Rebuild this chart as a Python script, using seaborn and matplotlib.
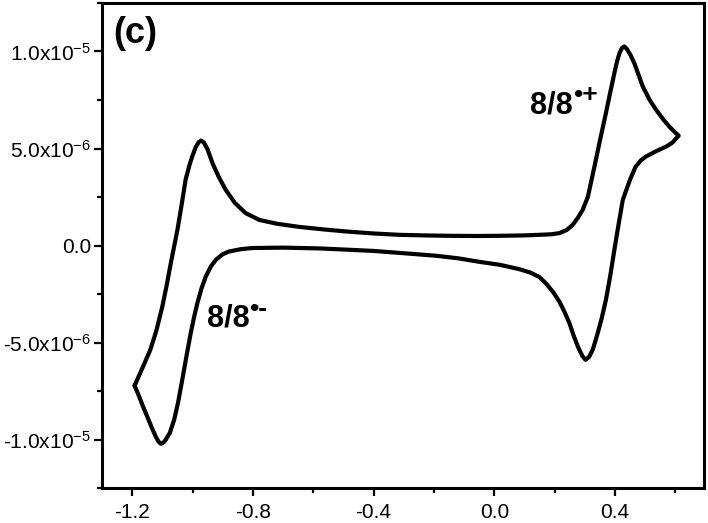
import numpy as np
import pandas as pd
import matplotlib
matplotlib.use("Agg")
import matplotlib.pyplot as plt
from matplotlib.ticker import MultipleLocator, FixedLocator, FixedFormatter
import seaborn as sns

# potential (V) and current (1e-6 A), read along the CV loop
potential = [-1.192, -1.177, -1.160, -1.140, -1.120, -1.100, -1.085, -1.072, -1.050, -1.035,
             -1.023, -1.010, -1.001, -0.990, -0.980, -0.971, -0.962, -0.950, -0.934, -0.912,
             -0.890, -0.860, -0.824, -0.779, -0.720, -0.647, -0.560, -0.481, -0.400, -0.315,
             -0.230, -0.149, -0.060, 0.017, 0.100, 0.149, 0.190, 0.216, 0.240, 0.260,
             0.278, 0.293, 0.310, 0.332, 0.350, 0.370, 0.385, 0.398, 0.407, 0.415,
             0.423, 0.431, 0.440, 0.452, 0.464, 0.478, 0.492, 0.515, 0.536, 0.560,
             0.580, 0.598, 0.611, 0.590, 0.570, 0.535, 0.503, 0.485, 0.468, 0.450,
             0.426, 0.412, 0.398, 0.385, 0.370, 0.356, 0.343, 0.334, 0.326, 0.314,
             0.302, 0.292, 0.277, 0.262, 0.249, 0.232, 0.216, 0.195, 0.171, 0.149,
             0.120, 0.083, 0.020, -0.050, -0.120, -0.192, -0.315, -0.400, -0.481, -0.580,
             -0.700, -0.802, -0.840, -0.879, -0.900, -0.923, -0.940, -0.956, -0.970, -0.984,
             -0.995, -1.006, -1.020, -1.034, -1.048, -1.061, -1.075, -1.089, -1.097, -1.105,
             -1.113, -1.122, -1.136, -1.150, -1.164, -1.177, -1.192]
current_uA = [-7.22, -6.70, -6.10, -5.38, -4.40, -3.14, -2.00, -0.91, 0.81, 2.20,
              3.39, 4.15, 4.59, 5.05, 5.32, 5.41, 5.30, 4.95, 4.25, 3.50,
              2.87, 2.20, 1.67, 1.32, 1.12, 0.96, 0.82, 0.71, 0.62, 0.55,
              0.52, 0.50, 0.49, 0.50, 0.52, 0.55, 0.58, 0.64, 0.80, 1.07,
              1.45, 1.84, 2.50, 4.07, 5.40, 6.83, 7.95, 8.89, 9.50, 9.92,
              10.18, 10.26, 10.12, 9.80, 9.40, 8.80, 8.20, 7.50, 7.00, 6.50,
              6.13, 5.85, 5.66, 5.30, 5.10, 4.85, 4.59, 4.38, 4.05, 3.40,
              2.36, 1.10, -0.22, -1.50, -2.80, -3.75, -4.50, -4.98, -5.38, -5.75,
              -5.89, -5.70, -5.21, -4.60, -4.00, -3.40, -2.90, -2.40, -1.95, -1.62,
              -1.40, -1.22, -1.00, -0.84, -0.66, -0.53, -0.38, -0.28, -0.22, -0.15,
              -0.11, -0.13, -0.19, -0.31, -0.45, -0.74, -1.10, -1.60, -2.20, -2.97,
              -3.70, -4.52, -5.70, -6.92, -8.10, -8.99, -9.65, -10.02, -10.17, -10.22,
              -10.10, -9.85, -9.35, -8.82, -8.30, -7.78, -7.22]

y_ticks = [-1.0e-5, -5.0e-6, 0.0, 5.0e-6, 1.0e-5]
y_labels = ["-1.0x10$^{-5}$", "-5.0x10$^{-6}$", "0.0", "5.0x10$^{-6}$", "1.0x10$^{-5}$"]
x_ticks = [-1.2, -0.8, -0.4, 0.0, 0.4]
x_labels = ["-1.2", "-0.8", "-0.4", "0.0", "0.4"]

df = pd.DataFrame({"E": potential, "I": np.array(current_uA) * 1e-6})

sns.set_style("ticks")
plt.rcParams["font.family"] = ["Liberation Sans", "DejaVu Sans"]
plt.rcParams["mathtext.fontset"] = "custom"
plt.rcParams["mathtext.rm"] = "Liberation Sans"
plt.rcParams["mathtext.it"] = "Liberation Sans:italic"
plt.rcParams["mathtext.bf"] = "Liberation Sans:bold"
plt.rcParams["text.color"] = "black"

fig = plt.figure(figsize=(7.08, 5.23), dpi=100)
ax = fig.add_axes([102 / 708, 35 / 523, 602 / 708, 485 / 523])

sns.lineplot(data=df, x="E", y="I", sort=False, estimator=None,
             color="black", lw=3, ax=ax)
ax.lines[0].set_solid_joinstyle("round")

ax.set_xlim(-1.30, 0.695)
ax.set_ylim(-1.25e-5, 1.25e-5)
ax.xaxis.set_major_locator(FixedLocator(x_ticks))
ax.xaxis.set_major_formatter(FixedFormatter(x_labels))
ax.xaxis.set_minor_locator(MultipleLocator(0.2))
ax.yaxis.set_major_locator(FixedLocator(y_ticks))
ax.yaxis.set_major_formatter(FixedFormatter(y_labels))
ax.yaxis.set_minor_locator(MultipleLocator(2.5e-6))
ax.set_xlabel("")
ax.set_ylabel("")

for s in ax.spines.values():
    s.set_linewidth(2.2)
    s.set_color("black")
ax.tick_params(which="major", direction="out", length=6, width=1.6,
               labelsize=15, colors="black", labelcolor="black")
ax.tick_params(axis="y", which="major", pad=2)
ax.tick_params(axis="x", which="major", pad=5)
ax.tick_params(which="minor", direction="out", length=3.5, width=1.6, colors="black")

ax.text(0.018, 0.9175, "(c)", transform=ax.transAxes, fontsize=26,
        fontweight="bold", ha="left", va="baseline", color="black")

t1 = ax.text(0.711, 0.773, "8/8", transform=ax.transAxes, fontsize=22,
             fontweight="bold", ha="left", va="baseline", color="black")
ax.annotate("\u2022+", xy=(1.0, 0.82), xycoords=t1, fontsize=19,
            fontweight="bold", ha="left", va="center", color="black",
            annotation_clip=False)

t2 = ax.text(0.174, 0.333, "8/8", transform=ax.transAxes, fontsize=22,
             fontweight="bold", ha="left", va="baseline", color="black")
ax.annotate("\u2022-", xy=(1.0, 0.82), xycoords=t2, fontsize=19,
            fontweight="bold", ha="left", va="center", color="black",
            annotation_clip=False)

fig.savefig("out.png", dpi=100)
plt.close(fig)
